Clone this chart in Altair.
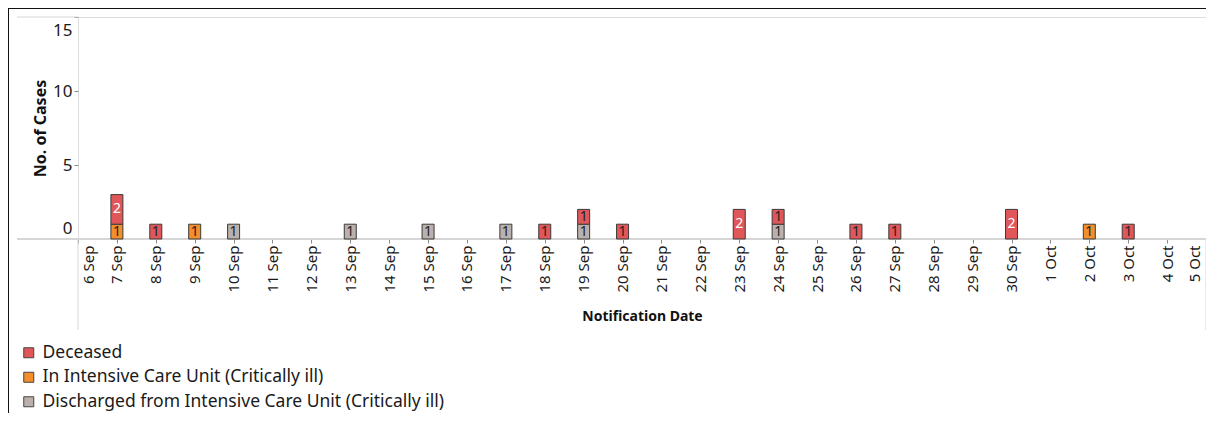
import altair as alt
import pandas as pd

# ---- data ----
dates = ["2020/09/07", "2020/09/07", "2020/09/08", "2020/09/09", "2020/09/10",
         "2020/09/13", "2020/09/15", "2020/09/17", "2020/09/18", "2020/09/19",
         "2020/09/19", "2020/09/20", "2020/09/23", "2020/09/24", "2020/09/24",
         "2020/09/26", "2020/09/27", "2020/09/30", "2020/10/02", "2020/10/03"]
statuses = ["In Intensive Care Unit (Critically ill)", "Deceased", "Deceased",
            "In Intensive Care Unit (Critically ill)",
            "Discharged from Intensive Care Unit (Critically ill)",
            "Discharged from Intensive Care Unit (Critically ill)",
            "Discharged from Intensive Care Unit (Critically ill)",
            "Discharged from Intensive Care Unit (Critically ill)",
            "Deceased",
            "Discharged from Intensive Care Unit (Critically ill)", "Deceased",
            "Deceased", "Deceased",
            "Discharged from Intensive Care Unit (Critically ill)", "Deceased",
            "Deceased", "Deceased", "Deceased",
            "In Intensive Care Unit (Critically ill)", "Deceased"]
counts = [1, 2, 1, 1, 1, 1, 1, 1, 1, 1, 1, 1, 2, 1, 1, 1, 1, 2, 1, 1]

categories = ["Deceased", "In Intensive Care Unit (Critically ill)",
              "Discharged from Intensive Care Unit (Critically ill)"]
colors = ["#e15759", "#f28e2b", "#bab0ac"]

df = pd.DataFrame({"date": dates, "status": statuses, "count": counts})

FONT = "Noto Sans"

base = alt.Chart(df).transform_calculate(
    ord="datum.status === 'Deceased' ? 2 : 1"
).transform_stack(
    stack="count", groupby=["date"], as_=["y0", "y1"],
    sort=[alt.SortField("ord", order="ascending")]
).transform_calculate(
    mid="(datum.y0 + datum.y1) / 2"
)

x_scale = alt.Scale(domain=[alt.DateTime(year=2020, month=9, date=6),
                            alt.DateTime(year=2020, month=10, date=5)],
                    padding=0)

x_enc = alt.X(
    "date:T",
    scale=x_scale,
    axis=alt.Axis(
        title="Notification Date", format="%-d %b",
        tickCount={"interval": "day", "step": 1},
        labelAngle=270, labelAlign="right", labelBaseline="middle",
        labelOverlap=False, labelFontSize=15, labelFont=FONT, labelColor="#1a1a1a",
        labelPadding=2, tickSize=4, tickColor="#888", domain=False, grid=False,
        labelOffset={"condition": [
            {"test": "date(datum.value) == 6 && month(datum.value) == 8", "value": 10},
            {"test": "date(datum.value) == 5 && month(datum.value) == 9", "value": -12}],
            "value": 0},
        titleFont=FONT, titleFontSize=14, titleFontWeight="bold", titleColor="#111",
        titleY=70, titleBaseline="top",
    ),
)

bars = base.mark_bar(width=12, stroke="#3a3a3a", strokeWidth=1).encode(
    x=x_enc,
    y=alt.Y("y1:Q", scale=alt.Scale(domain=[0, 15], nice=False),
            axis=alt.Axis(title="No. of Cases", values=[0, 5, 10, 15],
                          labelFlush=True, labelFontSize=17, labelFont=FONT,
                          labelColor="#1a1a1a", labelPadding=2, tickSize=4,
                          tickColor="#888", domain=False, grid=False,
                          labelOffset={"condition": [
                              {"test": "datum.value == 15", "value": 5},
                              {"test": "datum.value == 0", "value": -2}],
                              "value": 0},
                          titleFont=FONT, titleFontSize=16, titleFontWeight="bold",
                          titleColor="#111", titleX=-38, titleY=111,
                          titleAngle=270, titleAlign="center",
                          titleBaseline="middle")),
    y2="y0:Q",
    color=alt.Color("status:N", scale=alt.Scale(domain=categories, range=colors),
                    legend=alt.Legend(title=None, orient="none", legendX=-58,
                                      legendY=327, symbolType="square",
                                      symbolSize=100, symbolStrokeColor="#444",
                                      symbolStrokeWidth=1, symbolOpacity=1,
                                      labelFont=FONT, labelFontSize=17.5,
                                      labelColor="#1a1a1a", rowPadding=5.5,
                                      labelOffset=5, padding=0,
                                      labelLimit=700)),
)

labels = base.mark_text(font=FONT, fontSize=14, baseline="middle",
                        align="center").encode(
    x=alt.X("date:T", scale=x_scale),
    y="mid:Q",
    text="count:Q",
    color=alt.condition("datum.count >= 2", alt.value("#ffffff"),
                        alt.value("#222222")),
)

one = pd.DataFrame({"k": [0]})
GRAY = "#d6d6d6"
deco = [
    # light pane lines extending outside the plot
    alt.Chart(one).mark_rule(color=GRAY, strokeWidth=1).encode(
        x=alt.value(-61), x2=alt.value(0), y=alt.value(0)),
    alt.Chart(one).mark_rule(color=GRAY, strokeWidth=2).encode(
        x=alt.value(-61), x2=alt.value(1128), y=alt.value(222)),
    alt.Chart(one).mark_rule(color=GRAY, strokeWidth=1).encode(
        x=alt.value(0), y=alt.value(222), y2=alt.value(313)),
    alt.Chart(one).mark_rule(color=GRAY, strokeWidth=1).encode(
        x=alt.value(1128), y=alt.value(222), y2=alt.value(313)),
    # black frame of the picture
    alt.Chart(one).mark_rule(color="#111", strokeWidth=2).encode(
        x=alt.value(-70), x2=alt.value(1200), y=alt.value(-9)),
    alt.Chart(one).mark_rule(color="#111", strokeWidth=2).encode(
        x=alt.value(-70), y=alt.value(-9), y2=alt.value(400)),
]

chart = alt.layer(*deco, bars, labels).properties(
    width=1128, height=222,
    autosize=alt.AutoSizeParams(type="none"),
    padding={"left": 70, "top": 9, "right": 0, "bottom": 174},
).configure_view(stroke=GRAY, strokeWidth=1).configure(
    background="white"
)

chart.save("out.html", embed_options={"renderer": "svg", "actions": False})
